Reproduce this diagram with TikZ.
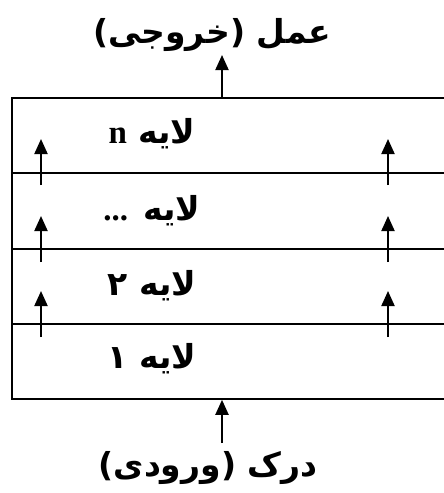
\documentclass[tikz,border=0pt]{standalone}
\usepackage{fontspec}
\usetikzlibrary{arrows.meta}
\TeXXeTstate=1
\newfontfamily\arabicfont[Script=Arabic]{DejaVu Sans}
\newfontfamily\plainsans{DejaVu Sans}
\newfontfamily\latinserif{Liberation Serif}
\begin{document}
\begin{tikzpicture}[x=1pt,y=-1pt,
  layer/.style={draw,line width=1.8pt,minimum width=450pt,inner sep=0pt,anchor=north west},
  arr/.style={line width=2pt,-{Triangle[length=15pt,width=13pt]}},
  lbl/.style={inner sep=0pt,font=\arabicfont\bfseries\fontsize{33}{36}\selectfont},
  rowlbl/.style={inner sep=0pt,font=\arabicfont\bfseries\fontsize{33}{36}\selectfont}]
\clip (0,0) rectangle (444,493);
\fill[white] (0,0) rectangle (444,493);
% box and layers
\node[layer,minimum height=75pt] (Ln) at (11,97) {};
\node[layer,minimum height=76pt] (Ld) at (11,172) {};
\node[layer,minimum height=75pt] (L2) at (11,248) {};
\node[layer,minimum height=75pt] (L1) at (11,323) {};
% labels
\node[rowlbl] (tn) at (152,134) {{\latinserif\bfseries n} \beginR لایه\endR};
\node[rowlbl] (td) at (152,211) {{\latinserif\bfseries ...} \beginR لایه\endR};
\node[rowlbl] (t2) at (152,286) {۲ \beginR لایه\endR};
\node[rowlbl] (t1) at (152,359) {۱ \beginR لایه\endR};
\node[lbl] (out) at (212,35) {{\plainsans\bfseries (}\beginR خروجی\endR{\plainsans\bfseries )} \beginR عمل\endR};
\node[lbl] (in) at (208,468) {{\plainsans\bfseries (}\beginR ورودی\endR{\plainsans\bfseries )} \beginR درک\endR};
% main arrows
\coordinate (boxtop) at (222,97);
\coordinate (outtip) at (222,55);
\coordinate (inbase) at (222,443);
\coordinate (boxbot) at (222,398);
\draw[arr] (Ln.north -| boxtop) -- (outtip);
\draw[arr] (inbase) -- (L1.south -| boxbot);
% side arrows
\foreach \y/\n in {185/a,262/b,337/c}{
  \coordinate (l\n s) at (41,\y);
  \coordinate (l\n e) at (41,\y-46);
  \coordinate (r\n s) at (388,\y);
  \coordinate (r\n e) at (388,\y-46);
  \draw[arr] (l\n s) -- (l\n e);
  \draw[arr] (r\n s) -- (r\n e);
}
\end{tikzpicture}
\end{document}
